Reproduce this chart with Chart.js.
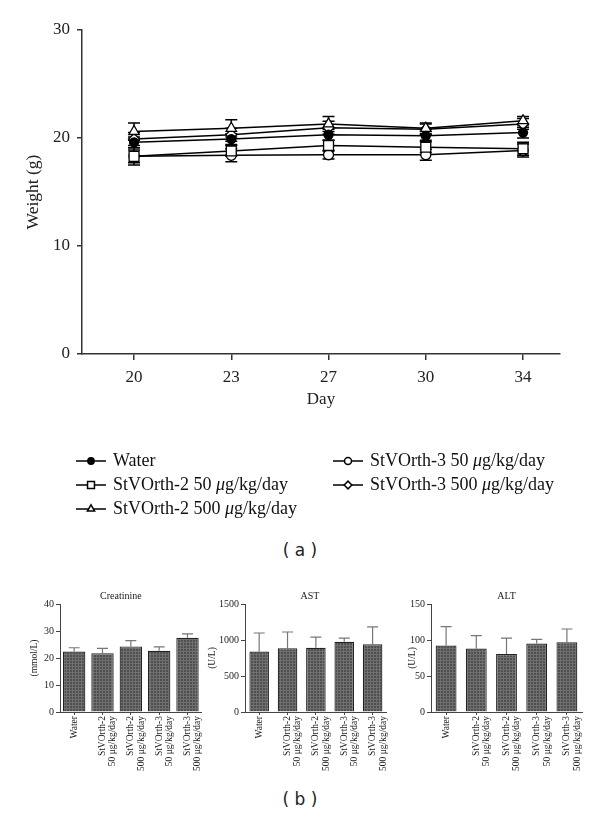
<!DOCTYPE html>
<html>
<head>
<meta charset="utf-8">
<script src="https://cdn.jsdelivr.net/npm/chart.js@4.4.1/dist/chart.umd.min.js"></script>
<style>
  body { margin: 0; background: #fff; width: 600px; height: 820px; position: relative; overflow: hidden; }
  canvas { position: absolute; }
  .cap { position: absolute; left: 0; width: 600px; text-align: center; font-family: 'DejaVu Sans', sans-serif; font-size: 17px; color: #222; }
</style>
</head>
<body>
<canvas id="weightChart" style="left:0;top:0" width="600" height="540"></canvas>
<div class="cap" style="top:540px">( a )</div>
<canvas id="creatChart" style="left:0;top:585px" width="210" height="200"></canvas>
<canvas id="astChart" style="left:205px;top:585px" width="190" height="200"></canvas>
<canvas id="altChart" style="left:395px;top:585px" width="205" height="200"></canvas>
<div class="cap" style="top:789px">( b )</div>
<script>
// (a) body weight by day
const days = ['20', '23', '27', '30', '34'];
const water = [19.6, 19.9, 20.3, 20.2, 20.5];
const waterSd = [0.5, 0.5, 0.5, 0.4, 0.5];
const st2Low = [18.3, 18.8, 19.3, 19.15, 19.0];
const st2LowSd = [0.6, 0.5, 0.5, 0.5, 0.6];
const st2High = [20.6, 20.9, 21.3, 20.9, 21.6];
const st2HighSd = [0.8, 0.8, 0.7, 0.5, 0.4];
const st3Low = [18.3, 18.4, 18.45, 18.45, 18.85];
const st3LowSd = [0.8, 0.6, 0.4, 0.5, 0.6];
const st3High = [19.9, 20.3, 20.95, 20.8, 21.3];
const st3HighSd = [0.6, 0.6, 0.6, 0.5, 0.5];

// (b) serum markers
const groups = [
    'Water',
    ['StVOrth-2', '50 μg/kg/day'],
    ['StVOrth-2', '500 μg/kg/day'],
    ['StVOrth-3', '50 μg/kg/day'],
    ['StVOrth-3', '500 μg/kg/day']
];
const creatinine = [22.4, 21.8, 24.3, 22.7, 27.5];
const creatinineErr = [1.4, 1.8, 2.1, 1.4, 1.4];
const ast = [839, 886, 891, 975, 942];
const astErr = [258, 225, 150, 52, 239];
const alt = [92.4, 88.1, 80.6, 95.2, 97.0];
const altErr = [26.2, 17.9, 22.1, 5.6, 18.3];

const SERIF = "'Liberation Serif', 'DejaVu Serif', serif";
Chart.defaults.font.family = SERIF;
Chart.defaults.color = '#222';

const weightSeries = [
    { label: 'Water', values: water, sd: waterSd, style: 'circle', fill: '#000', r: 4.5 },
    { label: 'StVOrth-2 50 μg/kg/day', values: st2Low, sd: st2LowSd, style: 'rect', fill: '#fff', r: 7 },
    { label: 'StVOrth-2 500 μg/kg/day', values: st2High, sd: st2HighSd, style: 'triangle', fill: '#fff', r: 6 },
    { label: 'StVOrth-3 50 μg/kg/day', values: st3Low, sd: st3LowSd, style: 'circle', fill: '#fff', r: 5 },
    { label: 'StVOrth-3 500 μg/kg/day', values: st3High, sd: st3HighSd, style: 'rectRot', fill: '#fff', r: 5.5 }
];

// text with an italic mu
function drawRich(ctx, text, x, y, size) {
    const parts = text.split('μ');
    let cx = x;
    parts.forEach((p, i) => {
        if (i > 0) {
            ctx.font = `italic ${size}px ${SERIF}`;
            ctx.fillText('μ', cx, y);
            cx += ctx.measureText('μ').width;
        }
        ctx.font = `${size}px ${SERIF}`;
        ctx.fillText(p, cx, y);
        cx += ctx.measureText(p).width;
    });
}

const weightErrorBars = {
    id: 'weightErrorBars',
    beforeDatasetsDraw(chart) {
        const { ctx, scales: { x, y } } = chart;
        ctx.save();
        ctx.strokeStyle = '#000';
        ctx.lineWidth = 1.5;
        weightSeries.forEach(s => {
            s.values.forEach((v, i) => {
                const px = x.getPixelForValue(i);
                const top = y.getPixelForValue(v + s.sd[i]);
                const bot = y.getPixelForValue(v - s.sd[i]);
                ctx.beginPath();
                ctx.moveTo(px, top); ctx.lineTo(px, bot);
                ctx.moveTo(px - 6, top); ctx.lineTo(px + 6, top);
                ctx.moveTo(px - 6, bot); ctx.lineTo(px + 6, bot);
                ctx.stroke();
            });
        });
        ctx.restore();
    }
};

// two column legend under the line chart
const weightLegend = {
    id: 'weightLegend',
    afterDraw(chart) {
        const ctx = chart.ctx;
        const slots = [[76, 461], [76, 485], [76, 509], [333, 461], [333, 485]];
        ctx.save();
        weightSeries.forEach((s, i) => {
            const [lx, ly] = slots[i];
            ctx.strokeStyle = '#000';
            ctx.lineWidth = 1.5;
            ctx.beginPath();
            ctx.moveTo(lx, ly); ctx.lineTo(lx + 30, ly);
            ctx.stroke();
            ctx.fillStyle = s.fill;
            Chart.helpers.drawPoint(ctx, { pointStyle: s.style, radius: s.r * 0.7, rotation: 0, borderWidth: 1.2 }, lx + 15, ly);
            ctx.fillStyle = '#111';
            ctx.textBaseline = 'middle';
            drawRich(ctx, s.label, lx + 37, ly, 18);
        });
        ctx.restore();
    }
};

new Chart(document.getElementById('weightChart'), {
    type: 'line',
    data: {
        datasets: weightSeries.map(s => ({
            label: s.label,
            data: s.values.map((v, i) => ({ x: i, y: v })),
            borderColor: '#000',
            borderWidth: 1.5,
            pointStyle: s.style,
            pointRadius: s.r,
            pointBackgroundColor: s.fill,
            pointBorderColor: '#000',
            pointBorderWidth: 1.3,
            tension: 0
        }))
    },
    options: {
        responsive: false,
        animation: false,
        layout: { padding: { top: 30, right: 40, bottom: 130, left: 0 } },
        plugins: { legend: { display: false }, tooltip: { enabled: false } },
        scales: {
            x: {
                type: 'linear',
                min: -0.535,
                max: 4.38,
                afterBuildTicks: s => { s.ticks = days.map((d, i) => ({ value: i })); },
                afterFit: s => { s.height = 56; },
                ticks: { callback: v => days[v], font: { size: 17 }, color: '#222', padding: 7, maxRotation: 0 },
                grid: { drawOnChartArea: false, tickLength: 6, color: '#333', lineWidth: 1.5 },
                border: { color: '#333', width: 1.5 },
                title: { display: true, text: 'Day', font: { size: 17 }, color: '#222', padding: { top: 0, bottom: 0 } }
            },
            y: {
                min: 0,
                max: 30,
                afterFit: s => { s.width = 82; },
                ticks: { stepSize: 10, font: { size: 17 }, color: '#222', padding: 7 },
                grid: { drawOnChartArea: false, tickLength: 5, color: '#333', lineWidth: 1.5 },
                border: { color: '#333', width: 1.5 },
                title: { display: true, text: 'Weight (g)', font: { size: 17.5 }, color: '#222', padding: { top: 23, bottom: 0 } }
            }
        }
    },
    plugins: [weightErrorBars, weightLegend]
});

// bar fill texture
function barTexture() {
    const c = document.createElement('canvas');
    c.width = 3; c.height = 3;
    const g = c.getContext('2d');
    g.fillStyle = '#4f4f4f';
    g.fillRect(0, 0, 3, 3);
    g.fillStyle = '#707070';
    g.fillRect(0, 0, 3, 1);
    g.fillRect(0, 0, 1, 3);
    return g.createPattern(c, 'repeat');
}

const barErrorBars = {
    id: 'barErrorBars',
    beforeDatasetsDraw(chart, args, opts) {
        const { ctx, scales: { x, y } } = chart;
        const vals = chart.data.datasets[0].data;
        ctx.save();
        ctx.strokeStyle = '#777';
        ctx.lineWidth = 1.2;
        vals.forEach((v, i) => {
            const px = x.getPixelForValue(i);
            const top = y.getPixelForValue(v + opts.errors[i]);
            ctx.beginPath();
            ctx.moveTo(px, y.getPixelForValue(v)); ctx.lineTo(px, top);
            ctx.moveTo(px - 5.5, top); ctx.lineTo(px + 5.5, top);
            ctx.stroke();
        });
        ctx.restore();
    }
};

const panelTitle = {
    id: 'panelTitle',
    afterDraw(chart, args, opts) {
        const { ctx, chartArea } = chart;
        ctx.save();
        ctx.font = `10px ${SERIF}`;
        ctx.fillStyle = '#222';
        ctx.textAlign = 'center';
        ctx.textBaseline = 'middle';
        ctx.fillText(opts.text, (chartArea.left + chartArea.right) / 2 + opts.shift, chartArea.top - 8);
        ctx.restore();
    }
};

function barChart(id, title, yTitle, values, errors, max, step, cfg) {
    return new Chart(document.getElementById(id), {
        type: 'bar',
        data: {
            labels: groups,
            datasets: [{
                data: values,
                backgroundColor: barTexture(),
                borderColor: '#222',
                borderWidth: 1.2,
                barPercentage: cfg.barPct,
                categoryPercentage: 1
            }]
        },
        options: {
            responsive: false,
            animation: false,
            layout: { padding: { top: 19, right: cfg.right, bottom: 0, left: 0 } },
            plugins: {
                legend: { display: false },
                tooltip: { enabled: false },
                barErrorBars: { errors },
                panelTitle: { text: title, shift: cfg.titleShift }
            },
            scales: {
                x: {
                    afterFit: s => { s.height = 73; },
                    ticks: { minRotation: 90, maxRotation: 90, autoSkip: false, font: { size: 9.5, lineHeight: 1.1 }, color: '#222', padding: 1 },
                    grid: { offset: false, drawOnChartArea: false, tickLength: 3, color: '#444' },
                    border: { color: '#444' }
                },
                y: {
                    min: 0,
                    max,
                    afterFit: s => { s.width = cfg.yWidth; },
                    ticks: { stepSize: step, callback: v => String(v), font: { size: 10 }, color: '#222', padding: 2 },
                    grid: { drawOnChartArea: false, tickLength: 4, color: '#444' },
                    border: { color: '#444' },
                    title: { display: true, text: yTitle, font: { size: 9.5 }, color: '#222', padding: { top: cfg.yTitlePad, bottom: 0 } }
                }
            }
        },
        plugins: [barErrorBars, panelTitle]
    });
}

barChart('creatChart', 'Creatinine', '(mmol/L)', creatinine, creatinineErr, 40, 10,
    { yWidth: 60, yTitlePad: 29, right: 6, barPct: 0.79, titleShift: -10 });
barChart('astChart', 'AST', '(U/L)', ast, astErr, 1500, 500,
    { yWidth: 40, yTitlePad: 2, right: 5, barPct: 0.69, titleShift: -6 });
barChart('altChart', 'ALT', '(U/L)', alt, altErr, 150, 50,
    { yWidth: 36, yTitlePad: 12, right: 18, barPct: 0.69, titleShift: 0 });
</script>
</body>
</html>
